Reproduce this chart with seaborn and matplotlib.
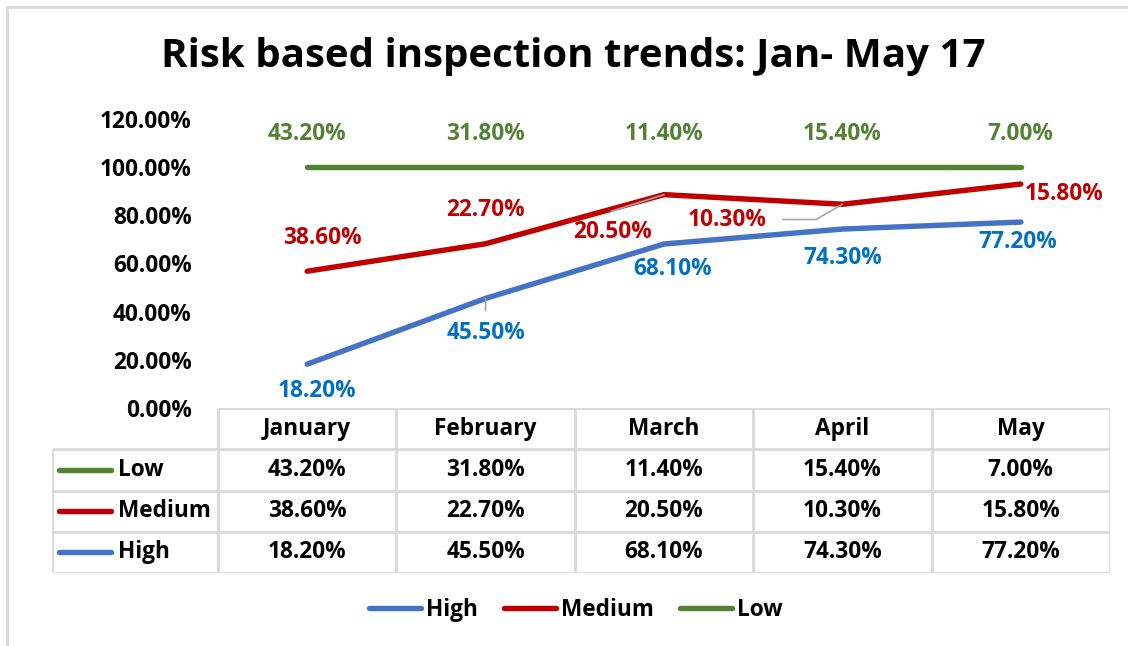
import numpy as np
import pandas as pd
import seaborn as sns
import matplotlib.pyplot as plt
from matplotlib.lines import Line2D
from matplotlib.ticker import FuncFormatter

months = ["January", "February", "March", "April", "May"]
series = ["High", "Medium", "Low"]
high = [18.2, 45.5, 68.1, 74.3, 77.2]
medium = [38.6, 22.7, 20.5, 10.3, 15.8]
low = [43.2, 31.8, 11.4, 15.4, 7.0]

colors = {"High": "#4472c4", "Medium": "#c00000", "Low": "#548235"}
label_colors = {"High": "#0070c0", "Medium": "#c00000", "Low": "#548235"}

# stacked line chart: each series sits on top of the ones below it
values = {"High": high, "Medium": medium, "Low": low}
stack = np.cumsum([high, medium, low], axis=0) / 100.0
rows = []
for s, cum in zip(series, stack):
    for m, v, c in zip(months, values[s], cum):
        rows.append({"month": m, "series": s, "value": v, "stacked": c})
df = pd.DataFrame(rows)

# label offsets in points (dx, dy) relative to each point
label_off = {
    "Low": [(0, 24), (0, 24), (0, 24), (0, 24), (0, 24)],
    "Medium": [(11, 24), (0, 24), (-37, -27), (-83, -11), (31, -7)],
    "High": [(7, -19), (0, -25), (6, -18), (0, -21), (-2, -14)],
}

sns.set_style("white")
plt.rcParams["font.family"] = ["Open Sans", "DejaVu Sans"]
plt.rcParams["font.weight"] = "bold"
plt.rcParams["text.color"] = "black"
plt.rcParams["ytick.color"] = "black"
FS = 16.3

W, H = 1128, 646
fig = plt.figure(figsize=(W / 100, H / 100), dpi=100)

# light frame on the left and top
fig.add_artist(Line2D([7 / W, 7 / W], [0, 1 - 7 / H], color="#d9d9d9", lw=2))
fig.add_artist(Line2D([7 / W, 1], [1 - 7 / H, 1 - 7 / H], color="#d9d9d9", lw=2))

fig.text(573 / W, 1 - 57 / H, "Risk based inspection trends: Jan- May 17",
         ha="center", va="center", fontsize=29, fontweight="bold")

ax = fig.add_axes([218 / W, 1 - 408 / H, (1110 - 218) / W, (408 - 119) / H])
sns.lineplot(data=df, x="month", y="stacked", hue="series", hue_order=series,
             palette=colors, linewidth=3.9, legend=False, ax=ax, sort=False)
for line in ax.lines:
    line.set_solid_capstyle("round")
    line.set_solid_joinstyle("round")

ax.set_xlim(-0.5, 4.5)
ax.set_ylim(0, 1.2)
ax.set_yticks(np.arange(0, 1.21, 0.2))
ax.yaxis.set_major_formatter(FuncFormatter(lambda v, p: f"{v * 100:.2f}%"))
ax.tick_params(axis="y", length=0, labelsize=FS, pad=19)
for t in ax.get_yticklabels():
    t.set_fontweight("bold")
ax.set_xticks([])
ax.set_xlabel("")
ax.set_ylabel("")
for sp in ax.spines.values():
    sp.set_visible(False)

# data labels
for s, cum in zip(series, stack):
    for i, (v, c) in enumerate(zip(values[s], cum)):
        dx, dy = label_off[s][i]
        ax.annotate(f"{v:.2f}%", (i, c), xytext=(dx, dy), textcoords="offset points",
                    ha="center", va="center", fontsize=FS, fontweight="bold",
                    color=label_colors[s])

# leader lines for a few labels
lead = "#a6a6a6"
ax.annotate("", (1, stack[0][1]), xytext=(0, -9), textcoords="offset points",
            arrowprops=dict(arrowstyle="-", color=lead, lw=1.2, shrinkA=0, shrinkB=0))
ax.annotate("", (2, stack[1][2]), xytext=(-38, -12), textcoords="offset points",
            arrowprops=dict(arrowstyle="-", color=lead, lw=1.2, shrinkA=0, shrinkB=0))
ax.annotate("", (3, stack[1][3]), xytext=(-43, -11), textcoords="offset points",
            arrowprops=dict(arrowstyle="-", color=lead, lw=1.2, shrinkA=0, shrinkB=0,
                            connectionstyle="angle,angleA=0,angleB=30,rad=0"))

# data table below the plot
col_px = (1110 - 218) / 5
lab_w = (218 - 52) / col_px
tax = fig.add_axes([52 / W, 1 - 573 / H, (1110 - 52) / W, (573 - 408) / H])
tax.set_xlim(-0.5 - lab_w, 4.5)
tax.set_ylim(4, 0)
tax.axis("off")
grid = dict(color="#d9d9d9", lw=2, solid_capstyle="butt")
tax.plot([-0.5, 4.5], [0, 0], **grid)
for r in range(1, 5):
    tax.plot([-0.5 - lab_w, 4.5], [r, r], **grid)
tax.plot([-0.5 - lab_w, -0.5 - lab_w], [1, 4], **grid)
for c in range(6):
    tax.plot([c - 0.5, c - 0.5], [0, 4], **grid)

for i, m in enumerate(months):
    tax.text(i, 0.5, m, ha="center", va="center", fontsize=FS, fontweight="bold")

for r, s in enumerate(["Low", "Medium", "High"], start=1):
    x0 = -0.5 - lab_w + 7 / col_px
    tax.plot([x0, x0 + 52 / col_px], [r + 0.5, r + 0.5], color=colors[s], lw=3.9,
             solid_capstyle="round")
    tax.text(x0 + 59 / col_px, r + 0.5, s, ha="left", va="center", fontsize=FS,
             fontweight="bold")
    for i, v in enumerate(values[s]):
        tax.text(i, r + 0.5, f"{v:.2f}%", ha="center", va="center", fontsize=FS,
                 fontweight="bold")

handles = [Line2D([], [], color=colors[s], lw=3.9, solid_capstyle="round") for s in series]
fig.legend(handles, series, loc="center", bbox_to_anchor=(576 / W, 1 - 610 / H),
           ncol=3, frameon=False, handlelength=2.3, handletextpad=0.22,
           columnspacing=1.15, prop={"weight": "bold", "size": FS})

fig.savefig("out.png", dpi=100)
